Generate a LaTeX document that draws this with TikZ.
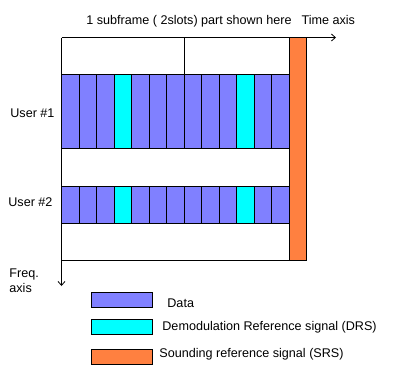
\documentclass[tikz,border=0pt]{standalone}
\usepackage{fontspec}
\setmainfont{Liberation Sans}
\usetikzlibrary{arrows.meta}
\definecolor{datac}{HTML}{8080FF}
\definecolor{drsc}{HTML}{00FFFF}
\definecolor{srsc}{HTML}{FF8040}
\begin{document}
\begin{tikzpicture}[x=1pt,y=-1pt,
  line width=0.8pt,
  lbl/.style={font=\fontsize{12.6}{14}\selectfont, inner sep=0pt, anchor=west},
  datacell/.style={draw=black, fill=datac},
  drscell/.style={draw=black, fill=drsc},
  srscell/.style={draw=black, fill=srsc},
  axisarrow/.style={-{Straight Barb[length=4pt,width=7pt]}}]
\useasboundingbox (0,0) rectangle (412,368);
\fill[white] (0,0) rectangle (412,368);
% coordinates
\coordinate (O) at (61.5,37.5);
\coordinate (TE) at (336,37.5);
\coordinate (FE) at (61.5,286);
% rows
\foreach \i in {0,...,12}{
  \pgfmathsetmacro{\xa}{61.5+\i*17.5}
  \pgfmathsetmacro{\xb}{61.5+(\i+1)*17.5}
  \ifnum\i=3 \def\st{drscell}\else\ifnum\i=10 \def\st{drscell}\else\def\st{datacell}\fi\fi
  \draw[\st] (\xa,74) rectangle (\xb,148);
  \draw[\st] (\xa,186) rectangle (\xb,223);
}
% SRS column
\draw[srscell] (289,37.5) rectangle (306,260);
% frame lines
\draw (61.5,260) -- (289,260);
\draw (184.3,37.5) -- (184.3,74);
\draw (289,37.5) -- (289,260);
% axes
\draw[axisarrow] (O) -- (TE);
\draw[axisarrow] (O) -- (FE);
% labels
\node[lbl] (title) at (86,21) {1 subframe ( 2slots) part shown here\hspace{10pt}Time axis};
\node[lbl] (u1) at (10,113) {User \#1};
\node[lbl] (u2) at (8,202) {User \#2};
\node[lbl, align=left, anchor=north west, font=\fontsize{12.6}{15.5}\selectfont] (freq) at (9,268) {Freq.\\axis};
% legend
\draw[datacell] (91,292) rectangle (152.7,307);
\draw[drscell] (91,319) rectangle (152.7,334);
\draw[srscell] (91,349) rectangle (152.7,364);
\node[lbl] (ldata) at (167,303) {Data};
\node[lbl] (ldrs) at (162,327) {Demodulation Reference signal (DRS)};
\node[lbl] (lsrs) at (159,354) {Sounding reference signal (SRS)};
\end{tikzpicture}
\end{document}
